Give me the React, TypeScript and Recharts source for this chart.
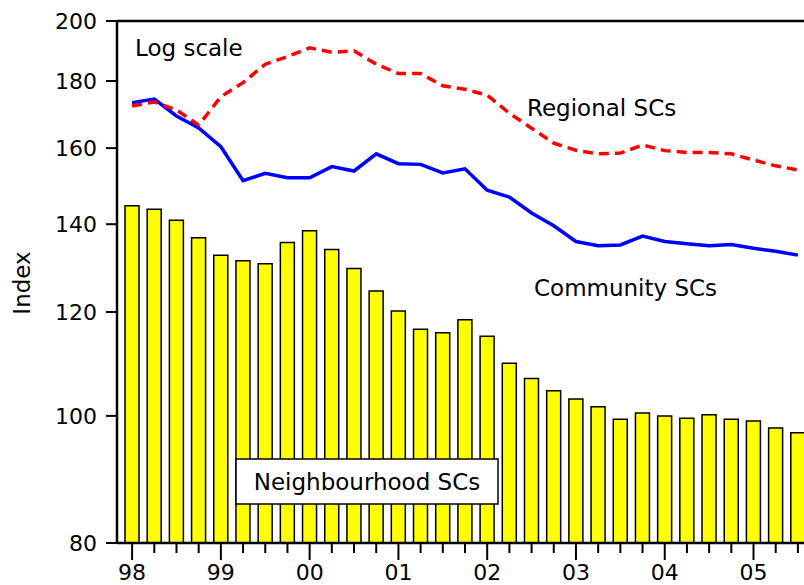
import React from 'react';
import {
  ComposedChart,
  Bar,
  Line,
  XAxis,
  YAxis,
  ReferenceLine,
} from 'recharts';

// quarterly, Mar-98 .. Sep-05
const quarters = [
  '98Q1', '98Q2', '98Q3', '98Q4',
  '99Q1', '99Q2', '99Q3', '99Q4',
  '00Q1', '00Q2', '00Q3', '00Q4',
  '01Q1', '01Q2', '01Q3', '01Q4',
  '02Q1', '02Q2', '02Q3', '02Q4',
  '03Q1', '03Q2', '03Q3', '03Q4',
  '04Q1', '04Q2', '04Q3', '04Q4',
  '05Q1', '05Q2', '05Q3',
];

const yearLabels = ['98', '99', '00', '01', '02', '03', '04', '05'];
const yTicks = [80, 100, 120, 140, 160, 180, 200];

const neighbourhood = [
  144.6, 143.7, 141.0, 136.7, 132.6, 131.3, 130.6, 135.6, 138.4, 133.9, 129.5,
  124.5, 120.2, 116.4, 115.7, 118.4, 115.0, 109.7, 106.8, 104.5, 103.0, 101.6,
  99.4, 100.5, 100.0, 99.6, 100.2, 99.4, 99.1, 97.9, 97.1,
];

const community = [
  173.3, 174.4, 169.3, 165.8, 160.4, 151.1, 153.1, 151.9, 151.9, 154.9, 153.7,
  158.4, 155.7, 155.5, 153.2, 154.3, 148.6, 146.8, 142.8, 139.6, 135.8, 134.8,
  135.0, 137.1, 135.8, 135.3, 134.8, 135.1, 134.2, 133.5, 132.6,
];

const regional = [
  172.3, 173.5, 171.1, 166.6, 175.1, 179.5, 185.4, 187.9, 190.8, 189.3, 189.8,
  185.4, 182.4, 182.4, 178.5, 177.4, 175.6, 170.1, 165.7, 161.4, 159.4, 158.4,
  158.6, 160.9, 159.3, 158.8, 158.8, 158.4, 156.7, 155.1, 154.0,
];

const data = quarters.map((q, i) => ({
  q,
  neighbourhood: neighbourhood[i],
  community: community[i],
  regional: regional[i],
}));

const FONT = '"DejaVu Sans", Verdana, sans-serif';

const XTick = (props: any) => {
  const { x, y, payload } = props;
  const i = quarters.indexOf(payload.value);
  const major = i % 4 === 0;
  return (
    <g>
      <line x1={x} x2={x} y1={y} y2={y + (major ? 17 : 10)} stroke="#000" strokeWidth={2} />
      {major && (
        <text
          x={x}
          y={y + 37}
          textAnchor="middle"
          fontFamily={FONT}
          fontSize={22}
          fill="#000"
        >
          {yearLabels[i / 4]}
        </text>
      )}
    </g>
  );
};

const YTick = (props: any) => {
  const { x, y, payload } = props;
  return (
    <text
      x={x}
      y={y + 8}
      textAnchor="end"
      fontFamily={FONT}
      fontSize={22}
      fill="#000"
    >
      {payload.value}
    </text>
  );
};

// labels sit on top of the bars, so they go in an overlay svg
const Annotations = () => (
  <svg
    width={804}
    height={585}
    style={{ position: 'absolute', left: 0, top: 0, pointerEvents: 'none' }}
  >
    <g fontFamily={FONT} fontSize={23} fill="#000">
      <text x={135} y={56}>Log scale</text>
      <text x={527} y={116}>Regional SCs</text>
      <text x={534} y={296}>Community SCs</text>
      <rect x={236} y={459} width={262} height={45} fill="#fff" stroke="#000" strokeWidth={1.5} />
      <text x={367} y={490} textAnchor="middle">Neighbourhood SCs</text>
      <text x={30} y={283} textAnchor="middle" transform="rotate(-90, 30, 283)">Index</text>
    </g>
  </svg>
);

export default function App() {
  return (
    <div
      style={{
        position: 'fixed',
        left: 0,
        top: 0,
        width: 804,
        height: 585,
        overflow: 'hidden',
        background: '#fff',
      }}
    >
      <ComposedChart
        width={818}
        height={585}
        data={data}
        margin={{ top: 21, right: 5, bottom: 0, left: 0 }}
        barCategoryGap={0}
      >
        <XAxis
          dataKey="q"
          height={42}
          interval={0}
          padding={{ left: 4, right: 4 }}
          axisLine={{ stroke: '#000', strokeWidth: 2.5 }}
          tickLine={false}
          tickSize={0}
          tickMargin={0}
          tick={<XTick />}
        />
        <YAxis
          type="number"
          scale="log"
          domain={[80, 200]}
          ticks={yTicks}
          allowDataOverflow
          width={117}
          axisLine={{ stroke: '#000', strokeWidth: 2.5 }}
          tickLine={{ stroke: '#000', strokeWidth: 2 }}
          tickSize={11}
          tickMargin={9}
          tick={<YTick />}
        />
        <ReferenceLine y={200} stroke="#000" strokeWidth={2.5} />
        <Bar
          dataKey="neighbourhood"
          barSize={14}
          fill="#ffff00"
          stroke="#000"
          strokeWidth={1.5}
          isAnimationActive={false}
        />
        <Line
          dataKey="community"
          type="linear"
          stroke="#0000ff"
          strokeWidth={3.5}
          dot={false}
          isAnimationActive={false}
        />
        <Line
          dataKey="regional"
          type="linear"
          stroke="#ff0000"
          strokeWidth={3.5}
          strokeDasharray="10 6"
          dot={false}
          isAnimationActive={false}
        />
      </ComposedChart>
      <Annotations />
    </div>
  );
}
